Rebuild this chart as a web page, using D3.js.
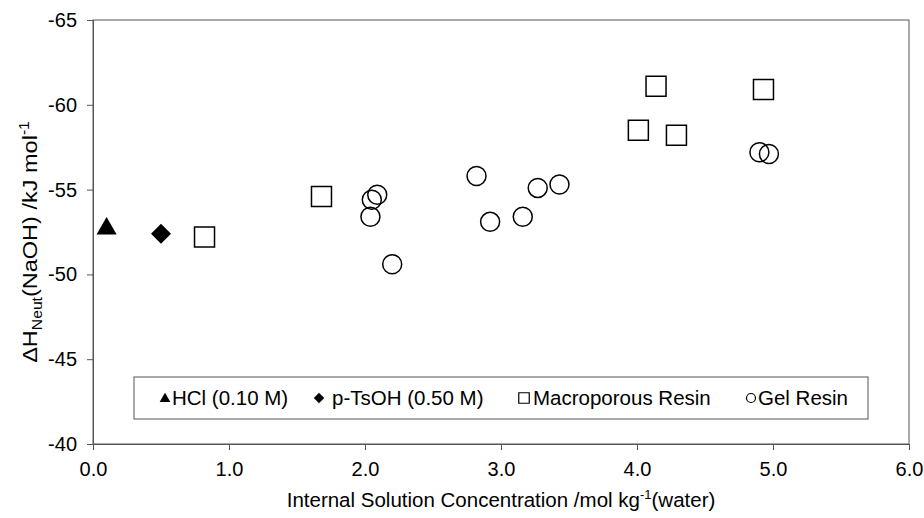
<!DOCTYPE html>
<html>
<head>
<meta charset="utf-8">
<script src="https://cdn.jsdelivr.net/npm/d3@7"></script>
<style>
  body { margin: 0; background: #fff; }
  svg { display: block; font-family: "Liberation Sans", Arial, sans-serif; }
</style>
</head>
<body>
<svg id="chart"></svg>
<script>
// data
const hclX = [0.10], hclY = [-52.7];
const tsohX = [0.50], tsohY = [-52.4];
const macroX = [0.82, 1.68, 4.01, 4.14, 4.29, 4.93];
const macroY = [-52.2, -54.6, -58.5, -61.1, -58.2, -60.9];
const gelX = [2.04, 2.05, 2.09, 2.20, 2.82, 2.92, 3.16, 3.27, 3.43, 4.90, 4.97];
const gelY = [-53.4, -54.4, -54.7, -50.6, -55.8, -53.1, -53.4, -55.1, -55.3, -57.2, -57.1];
const xTicks = [0, 1, 2, 3, 4, 5, 6];
const yTicks = [-65, -60, -55, -50, -45, -40];
const legendNames = ["HCl (0.10 M)", "p-TsOH (0.50 M)", "Macroporous Resin", "Gel Resin"];

const W = 924, H = 518;
const margin = { top: 20, right: 15, bottom: 74, left: 93 };
const width = W - margin.left - margin.right;
const height = H - margin.top - margin.bottom;

const svg = d3.select("#chart").attr("width", W).attr("height", H);
const g = svg.append("g").attr("transform", `translate(${margin.left},${margin.top})`);

const x = d3.scaleLinear().domain([0, 6]).range([0, width]);
const y = d3.scaleLinear().domain([-40, -65]).range([height, 0]);

// plot border
g.append("rect")
    .attr("width", width).attr("height", height)
    .attr("fill", "none").attr("stroke", "#555").attr("stroke-width", 1);

// axes
const xAxis = g.append("g")
    .attr("transform", `translate(0,${height})`)
    .call(d3.axisBottom(x).tickValues(xTicks).tickFormat(d3.format(".1f")).tickSize(6).tickPadding(12));
const yAxis = g.append("g")
    .call(d3.axisLeft(y).tickValues(yTicks).tickFormat(d => d3.format("d")(d).replace("−", "-")).tickSize(6).tickPadding(10));
[xAxis, yAxis].forEach(a => {
    a.selectAll("path, line").attr("stroke", "#555");
    a.selectAll("text").attr("fill", "#000").style("font-size", "20px")
        .style("font-family", "'Liberation Sans', Arial, sans-serif");
});

// axis titles
const xt = svg.append("text")
    .attr("x", margin.left + width / 2).attr("y", 507)
    .attr("text-anchor", "middle").style("font-size", "20.5px");
xt.append("tspan").text("Internal Solution Concentration /mol kg");
xt.append("tspan").text("-1").attr("dy", -8).style("font-size", "13px");
xt.append("tspan").text("(water)").attr("dy", 8);

const yt = svg.append("text")
    .attr("transform", `translate(37,${margin.top + height / 2 + 10}) rotate(-90) scale(1.12,1)`)
    .attr("text-anchor", "middle").style("font-size", "21px");
yt.append("tspan").text("\u0394H");
yt.append("tspan").text("Neut").attr("dy", 5).style("font-size", "14px");
yt.append("tspan").text("(NaOH) /kJ mol").attr("dy", -5);
yt.append("tspan").text("-1").attr("dy", -8).style("font-size", "14px");

// markers
const pts = (xs, ys) => xs.map((v, i) => [v, ys[i]]);
const sym = {
    tri: d3.symbol().type(d3.symbolTriangle).size(175),
    dia: d3.symbol().type(d3.symbolSquare).size(200),
    sq: d3.symbol().type(d3.symbolSquare).size(400)
};

g.selectAll(".hcl").data(pts(hclX, hclY)).enter().append("path")
    .attr("d", sym.tri()).attr("fill", "#000")
    .attr("transform", d => `translate(${x(d[0])},${y(d[1])})`);
g.selectAll(".tsoh").data(pts(tsohX, tsohY)).enter().append("path")
    .attr("d", sym.dia()).attr("fill", "#000")
    .attr("transform", d => `translate(${x(d[0])},${y(d[1])}) rotate(45)`);
g.selectAll(".macro").data(pts(macroX, macroY)).enter().append("path")
    .attr("d", sym.sq()).attr("fill", "none").attr("stroke", "#000").attr("stroke-width", 1.5)
    .attr("transform", d => `translate(${x(d[0])},${y(d[1])})`);
g.selectAll(".gel").data(pts(gelX, gelY)).enter().append("circle")
    .attr("cx", d => x(d[0])).attr("cy", d => y(d[1])).attr("r", 9.5)
    .attr("fill", "none").attr("stroke", "#000").attr("stroke-width", 1.5);

// legend
const lg = svg.append("g");
lg.append("rect").attr("x", 134).attr("y", 377).attr("width", 734).attr("height", 42)
    .attr("fill", "#fff").attr("stroke", "#555").attr("stroke-width", 1);
const ly = 398;
const markX = [165, 319, 524, 751];
const textX = [172, 332, 533, 758];
lg.append("path").attr("d", d3.symbol().type(d3.symbolTriangle).size(50)())
    .attr("transform", `translate(${markX[0]},${ly + 1})`).attr("fill", "#000");
lg.append("path").attr("d", d3.symbol().type(d3.symbolSquare).size(55)())
    .attr("transform", `translate(${markX[1]},${ly}) rotate(45)`).attr("fill", "#000");
lg.append("path").attr("d", d3.symbol().type(d3.symbolSquare).size(110)())
    .attr("transform", `translate(${markX[2]},${ly})`).attr("fill", "none").attr("stroke", "#000").attr("stroke-width", 1.2);
lg.append("circle").attr("cx", markX[3]).attr("cy", ly).attr("r", 4.5)
    .attr("fill", "none").attr("stroke", "#000").attr("stroke-width", 1.2);
lg.selectAll(".lt").data(legendNames).enter().append("text")
    .attr("x", (d, i) => textX[i]).attr("y", ly + 7)
    .style("font-size", "20.5px").text(d => d);
</script>
</body>
</html>
